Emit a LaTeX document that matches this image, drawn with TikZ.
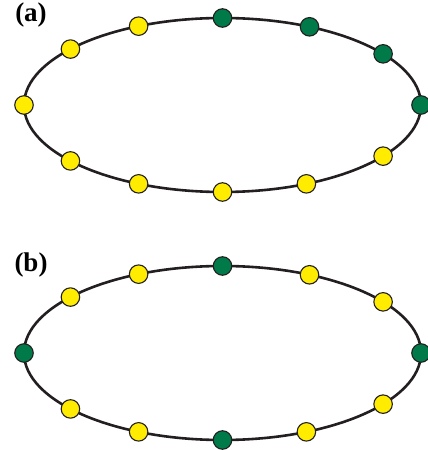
\documentclass[tikz,border=0pt]{standalone}
\usepackage{fontspec}
\setmainfont{Liberation Serif}
\usepackage{tikz}
\usetikzlibrary{calc}
\definecolor{siteyellow}{RGB}{255,236,0}
\definecolor{sitegreen}{RGB}{0,122,72}
\definecolor{ringcol}{RGB}{35,31,32}
\tikzset{
  ringline/.style={draw=ringcol, line width=2.6pt},
  site/.style={circle, draw=ringcol, line width=1.1pt, inner sep=0pt, minimum size=18.5pt},
  empty/.style={site, fill=siteyellow},
  full/.style={site, fill=sitegreen},
  panel/.style={font=\bfseries\fontsize{27}{27}\selectfont, inner sep=0pt}
}

\begin{document}
\begin{tikzpicture}[x=1pt,y=1pt]
  \useasboundingbox (0,0) rectangle (428,450);
  % (a)
  \coordinate (ca) at (222.5,345);
  \draw[ringline] (ca) ellipse [x radius=198.5, y radius=87];
  \foreach \t/\s [count=\i] in {0/full,36/full,64/full,90/full,115/empty,140/empty,
      180/empty,220/empty,245/empty,270/empty,295/empty,324/empty}
    \node[\s] (a\i) at ($(ca)+(\t:198.5 and 87)$) {};
  \node[panel] (la) at (31,435) {(a)};

  % (b)
  \coordinate (cb) at (222.5,97);
  \draw[ringline] (cb) ellipse [x radius=198.5, y radius=87];
  \foreach \t/\s [count=\i] in {0/full,36/empty,64/empty,90/full,115/empty,140/empty,
      180/full,220/empty,245/empty,270/full,295/empty,324/empty}
    \node[\s] (b\i) at ($(cb)+(\t:198.5 and 87)$) {};
  \node[panel] (lb) at (31,185) {(b)};
\end{tikzpicture}
\end{document}
